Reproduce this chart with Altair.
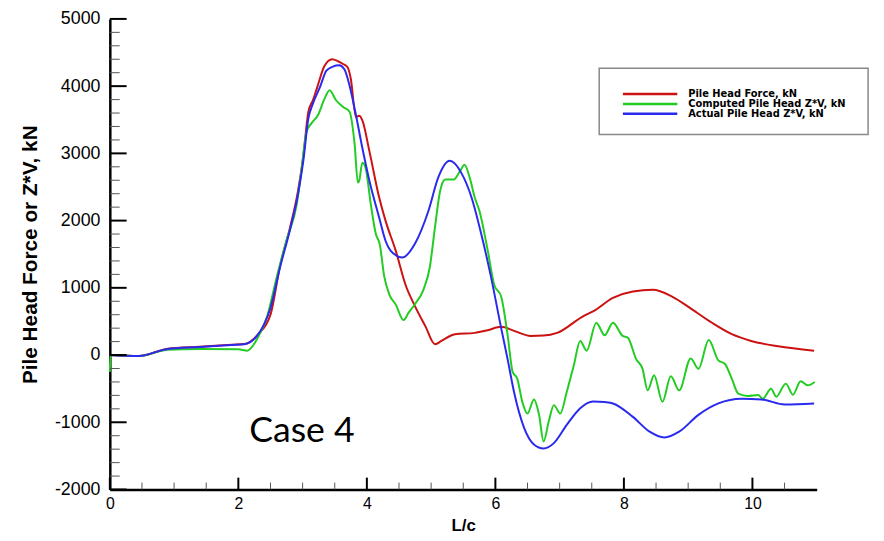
import altair as alt
import pandas as pd

# ---- data ----
red_x = [0, 0.45, 0.9, 1.4, 1.9, 2.1, 2.3, 2.5, 2.65, 2.8, 2.93, 3.01, 3.09, 3.16, 3.22, 3.34, 3.46,
         3.55, 3.63, 3.70, 3.75, 3.83, 3.88, 3.93, 4.04, 4.19, 4.29, 4.45, 4.6, 4.75, 4.91, 5.06,
         5.16, 5.37, 5.68, 5.88, 6.09, 6.29, 6.55, 6.75, 6.96, 7.37, 7.52, 7.83, 8.14, 8.45, 8.75,
         9.06, 9.37, 9.68, 9.98, 10.4, 10.96]
red_y = [0, -15, 95, 125, 155, 165, 300, 600, 1330, 1880, 2450, 2950, 3620, 3790, 3960, 4300, 4400,
         4370, 4330, 4280, 4110, 3540, 3560, 3490, 3030, 2350, 2000, 1550, 1050, 725, 430, 160,
         210, 310, 330, 370, 420, 360, 285, 290, 330, 580, 650, 850, 945, 970, 870,
         680, 480, 310, 210, 130, 65]

blue_x = [0, 0.45, 0.9, 1.4, 1.9, 2.09, 2.29, 2.5, 2.65, 2.8, 2.93, 3.01, 3.09, 3.16, 3.27, 3.37, 3.47,
          3.57, 3.65, 3.73, 3.83, 3.93, 4.04, 4.19, 4.29, 4.45, 4.55, 4.75, 4.96, 5.11, 5.29, 5.47,
          5.63, 5.78, 5.93, 6.09, 6.19, 6.29, 6.45, 6.6, 6.75, 6.91, 7.11, 7.32, 7.52, 7.7, 7.83,
          8.14, 8.40, 8.63, 8.86, 9.16, 9.47, 9.83, 10.14, 10.5, 10.96]
blue_y = [0, -15, 90, 120, 150, 160, 285, 700, 1310, 1850, 2400, 2880, 3520, 3740, 3985, 4230, 4290,
          4310, 4250, 4010, 3570, 3080, 2590, 2050, 1700, 1485, 1450, 1660, 2150, 2640, 2890, 2710,
          2340, 1800, 1170, 400, -60, -550, -1090, -1330, -1390, -1310, -1040, -790, -690, -700, -720,
          -920, -1140, -1225, -1140, -890, -720, -650, -660, -735, -720]

green_x = [0, 0.01, 0.45, 0.9, 1.4, 2.0, 2.14, 2.29, 2.45, 2.6, 2.75, 2.91, 2.98, 3.06, 3.14, 3.24,
           3.34, 3.42, 3.52, 3.63, 3.73, 3.81, 3.86, 3.88, 3.93, 3.98, 4.06, 4.14, 4.2, 4.27, 4.35,
           4.45, 4.57, 4.65, 4.75, 4.88, 4.98, 5.06, 5.14, 5.22, 5.35, 5.45, 5.52, 5.6, 5.68, 5.75,
           5.88, 5.98, 6.09, 6.19, 6.27, 6.34, 6.42, 6.50, 6.6, 6.68, 6.75, 6.83, 6.91, 7.01, 7.11,
           7.22, 7.32, 7.42, 7.57, 7.70, 7.83, 7.98, 8.06, 8.19, 8.29, 8.37, 8.47, 8.6, 8.73, 8.86,
           9.04, 9.16, 9.32, 9.47, 9.57, 9.68, 9.78, 9.93, 10.09, 10.16, 10.29, 10.37, 10.52, 10.63,
           10.75, 10.86, 10.97]
green_y = [-250, 0, -15, 80, 90, 85, 65, 235, 580, 1170, 1710, 2250, 2735, 3320, 3450, 3570,
           3810, 3940, 3790, 3690, 3620, 3130, 2565, 2590, 2860, 2785, 2250, 1800, 1650, 1170, 900,
           750, 520, 630, 760, 970, 1310, 1900, 2440, 2610, 2610, 2735, 2830, 2640, 2340, 2150,
           1560, 1050, 870, 300, -255, -350, -700, -870, -660, -890, -1285, -990, -745, -870, -550,
           -155, 210, 65, 480, 295, 480, 285, 260, -60, -205, -525, -300, -695, -315, -525,
           -50, -205, 225, -80, -130, -355, -575, -610, -595, -650, -500, -620, -425, -590,
           -390, -450, -400]

series_names = ["Pile Head Force, kN", "Computed Pile Head Z*V, kN", "Actual Pile Head Z*V, kN"]
series_colors = ["#cc1111", "#22cc22", "#2a2aee"]

x_major = [0, 2, 4, 6, 8, 10]
x_minor = [0.5, 1, 1.5, 2.5, 3, 3.5, 4.5, 5, 5.5, 6.5, 7, 7.5, 8.5, 9, 9.5, 10.5]
y_major = [-2000, -1000, 0, 1000, 2000, 3000, 4000, 5000]
y_minor = [v for v in range(-2000, 5001, 200) if v % 1000 != 0]

x_title = "L/c"
y_title = "Pile Head Force or Z*V, kN"
annotation = "Case 4"

# ---- build tables ----
rows = []
for name, xs_, ys_ in zip(series_names, [red_x, green_x, blue_x], [red_y, green_y, blue_y]):
    for i, (a, b) in enumerate(zip(xs_, ys_)):
        rows.append({"series": name, "x": a, "y": b, "order": i})
df = pd.DataFrame(rows)

W, H = 715, 476
xs = alt.Scale(domain=[0, 11], nice=False, zero=False)
ys = alt.Scale(domain=[-2000, 5000], nice=False, zero=False)
cscale = alt.Scale(domain=series_names, range=series_colors)

font = "Liberation Sans"
hyphen_expr = "datum.value < 0 ? '-' + format(-datum.value, 'd') : format(datum.value, 'd')"

ax_x = alt.Axis(values=x_major, labelExpr=hyphen_expr, ticks=False, grid=False, domainColor="black",
                domainWidth=2.5, labelFont=font, labelFontSize=16, labelColor="black",
                labelPadding=6, titleFont=font, titleFontSize=17, titleFontWeight="bold",
                titleColor="black", titlePadding=6, labelFlush=False)
ax_y = alt.Axis(values=y_major, labelExpr=hyphen_expr, ticks=False, grid=False, domainColor="black",
                domainWidth=2.5, labelFont=font, labelFontSize=18, labelColor="black",
                labelPadding=10, titleFont=font, titleFontSize=21, titleFontWeight="bold",
                titleColor="black", titleAngle=270, titleX=-80, titleY=H / 2,
                titleAlign="center", titleBaseline="middle", labelFlush=False)


def X(field):
    return alt.X(field, scale=xs, title=x_title, axis=ax_x)


def Y(field):
    return alt.Y(field, scale=ys, title=y_title, axis=ax_y)


lines = alt.Chart(df).mark_line(strokeWidth=2, interpolate="monotone").encode(
    x=X("x:Q"),
    y=Y("y:Q"),
    color=alt.Color("series:N", scale=cscale, legend=None),
    detail="series:N",
    order="order:Q",
)

# inward ticks
ymaj = alt.Chart(pd.DataFrame({"y": y_major})).mark_rule(color="black", strokeWidth=2).encode(
    y=Y("y:Q"), x=alt.value(0), x2=alt.value(17))
ymin = alt.Chart(pd.DataFrame({"y": y_minor})).mark_rule(color="#555555", strokeWidth=1).encode(
    y=Y("y:Q"), x=alt.value(0), x2=alt.value(10))
xmaj = alt.Chart(pd.DataFrame({"x": x_major})).mark_rule(color="black", strokeWidth=2).encode(
    x=X("x:Q"), y=alt.value(H), y2=alt.value(H - 12))
xmin = alt.Chart(pd.DataFrame({"x": x_minor})).mark_rule(color="#555555", strokeWidth=1).encode(
    x=X("x:Q"), y=alt.value(H), y2=alt.value(H - 7))

# legend (manual, drawn as layers)
box = alt.Chart(pd.DataFrame({"k": [0]})).mark_rect(
    fill="white", stroke="#888888", strokeWidth=1.5).encode(
    x=alt.value(495), x2=alt.value(767), y=alt.value(50), y2=alt.value(117))

legend_layers = []
row_y = [76, 86, 96]
for name, col, ry in zip(series_names, series_colors, row_y):
    d = pd.DataFrame({"series": [name]})
    legend_layers.append(alt.Chart(d).mark_rule(strokeWidth=2.5, color=col).encode(
        x=alt.value(519), x2=alt.value(574), y=alt.value(ry)))
    legend_layers.append(alt.Chart(d).mark_text(
        align="left", baseline="middle", font="DejaVu Sans", fontSize=10, fontWeight="bold",
        color="black").encode(x=alt.value(585), y=alt.value(ry), text="series:N"))

case_txt = alt.Chart(pd.DataFrame({"t": [annotation]})).mark_text(
    align="left", baseline="middle", font="Lato", fontSize=36, color="black").encode(
    x=alt.value(141), y=alt.value(417), text="t:N")

chart = alt.layer(lines, ymin, ymaj, xmin, xmaj, box, *legend_layers, case_txt).properties(
    width=W, height=H,
    background="white",
    autosize=alt.AutoSizeParams(type="none"),
    padding={"left": 103, "top": 8, "right": 60, "bottom": 45},
).configure_view(stroke="transparent", strokeWidth=0)

chart.save("out.html", embed_options={"renderer": "svg", "actions": False})
